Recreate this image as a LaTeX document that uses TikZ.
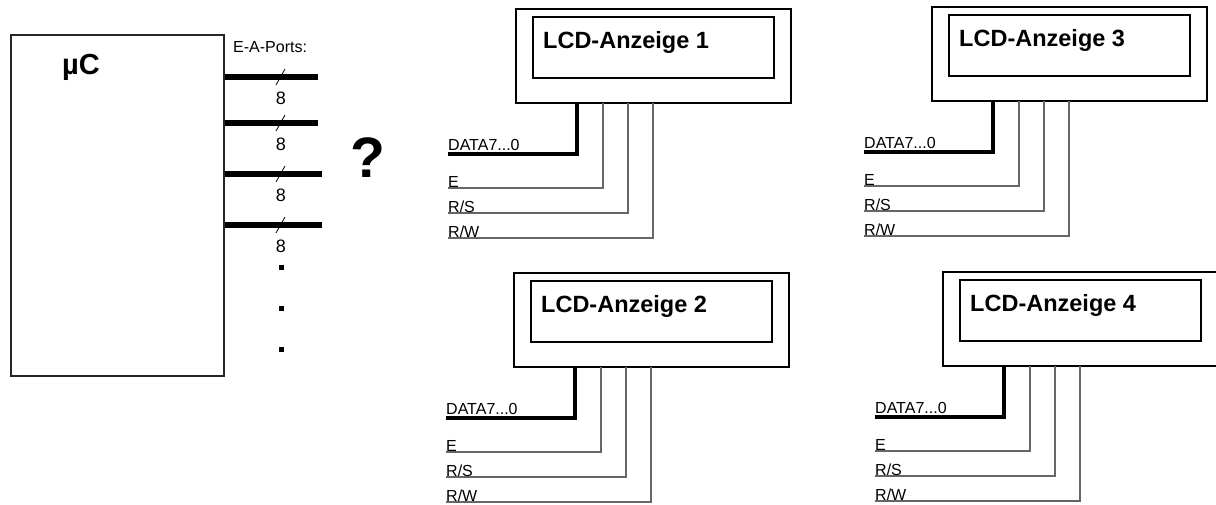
\documentclass[tikz,border=0pt]{standalone}
\usepackage{fontspec}
\setmainfont{Liberation Sans}
\begin{document}
\begin{tikzpicture}[x=1pt,y=-1pt,
  mcbox/.style={draw=black!85,line width=1.5pt},
  outerbox/.style={draw=black,line width=2pt,minimum width=275pt,minimum height=94pt,anchor=north west,inner sep=0pt,outer sep=0pt},
  innerbox/.style={draw=black,line width=2pt,minimum width=241pt,minimum height=61pt,anchor=north west,inner sep=0pt,outer sep=0pt},
  lcdtext/.style={font=\fontsize{23.5}{23.5}\selectfont\bfseries,anchor=base west,inner sep=0pt},
  lbl/.style={font=\fontsize{16}{16}\selectfont,anchor=base west,inner sep=0pt},
  port/.style={line width=6pt},
  databus/.style={line width=4pt},
  wire/.style={draw=black!60,line width=1.1pt},
  dotsq/.style={fill=black,minimum size=5pt,inner sep=0pt}]
\useasboundingbox (0,0) rectangle (1216,504);
\fill[white] (0,0) rectangle (1216,504);

% microcontroller
\node[mcbox,minimum width=213pt,minimum height=341pt,anchor=north west,inner sep=0pt] (mc) at (10,34) {};
\node[font=\fontsize{29}{29}\selectfont\bfseries,anchor=base west,inner sep=0pt] (mclabel) at (62,74) {µC};
\node[font=\fontsize{16}{16}\selectfont,anchor=base west,inner sep=0pt] (ealabel) at (233,52) {E-A-Ports:};

% ports
\foreach \i/\yy/\xe in {1/77/318,2/123/318,3/174/322,4/225/322}{
  \coordinate (ps\i) at (225,\yy);
  \coordinate (pe\i) at (\xe,\yy);
  \draw[port] (ps\i) -- (pe\i);
  \draw[line width=0.8pt] (276,\yy+8) -- (285,\yy-8);
  \node[font=\fontsize{18}{18}\selectfont,inner sep=0pt] (pw\i) at (281,\yy+21) {8};
}
\node[dotsq] (dot1) at (281,267) {};
\node[dotsq] (dot2) at (281,308) {};
\node[dotsq] (dot3) at (281,349) {};

\node[font=\fontsize{57}{57}\selectfont\bfseries,inner sep=0pt] (qm) at (368,158) {?};

% LCD displays
\foreach \n/\x/\y in {1/516/9,2/514/273,3/932/7,4/943/272}{
  \node[outerbox] (lcd\n) at (\x,\y) {};
  \node[innerbox] (in\n) at (\x+17,\y+8) {};
  \node[lcdtext] (t\n) at (\x+27,\y+39) {LCD-Anzeige \n};
  \coordinate (d\n) at (\x-68,\y+94+51);
  \coordinate (e\n) at (\x-68,\y+94+85);
  \coordinate (rs\n) at (\x-68,\y+94+110);
  \coordinate (rw\n) at (\x-68,\y+94+135);
  \draw[databus] ([xshift=61pt]lcd\n.south west) |- (d\n);
  \draw[wire] ([xshift=87pt]lcd\n.south west) |- (e\n);
  \draw[wire] ([xshift=112pt]lcd\n.south west) |- (rs\n);
  \draw[wire] ([xshift=137pt]lcd\n.south west) |- (rw\n);
  \node[lbl] (dl\n) at ([yshift=4pt]d\n) {DATA7...0};
  \node[lbl] (el\n) at ([yshift=1pt]e\n) {E};
  \node[lbl] (rsl\n) at ([yshift=1pt]rs\n) {R/S};
  \node[lbl] (rwl\n) at ([yshift=1pt]rw\n) {R/W};
}
\end{tikzpicture}
\end{document}
